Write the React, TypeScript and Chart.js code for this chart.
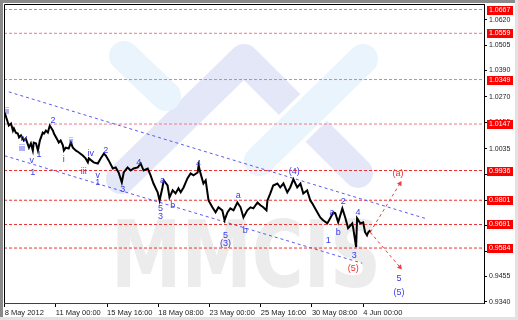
import React, { useEffect, useRef } from "react";
import { Chart, registerables } from "chart.js";

Chart.register(...registerables);

// H4 bar number (0 = first bar on the chart) and closing price of the traced line
const barIndex = [
  0, 1.0, 1.3, 2.0, 2.6, 2.9, 3.5, 4.1, 4.5, 5.1,
  6.0, 6.6, 7.6, 8.2, 8.8, 9.1, 9.8, 10.4, 11.0, 11.9,
  12.3, 12.9, 13.5, 14.1, 15.1, 15.4, 16.6, 16.9, 17.5, 18.2,
  18.5, 19.1, 20.0, 20.7, 21.3, 22.2, 23.2, 24.4, 25.3, 26.0,
  26.3, 27.8, 29.1, 30.0, 31.0, 31.6, 32.5, 33.8, 34.7, 35.6,
  36.6, 37.2, 38.4, 39.4, 40.3, 41.6, 42.5, 43.4, 44.7, 45.6,
  46.5, 47.8, 48.4, 49.3, 49.7, 50.9, 51.5, 52.5, 53.4, 54.3,
  55.0, 55.9, 57.1, 58.1, 59.0, 60.3, 60.6, 61.2, 62.1, 62.8,
  63.7, 64.9, 65.9, 66.8, 68.0, 68.7, 69.6, 70.5, 71.5, 72.7,
  73.7, 74.6, 75.8, 76.8, 77.7, 79.0, 79.9, 80.8, 81.8, 82.1,
  83.0, 83.9, 85.2, 86.1, 87.1, 88.3, 89.2, 90.2, 91.4, 92.4,
  93.3, 94.5, 95.5, 96.1, 97.0, 98.6, 99.5, 100.8, 101.7, 102.7,
  103.3, 104.2, 105.5, 106.4, 107.3, 108.6, 108.9, 109.8, 110.1, 111.1,
  112.0, 112.6, 113.2, 113.6, 114.2,
];
const closePrice = [
  1.0199, 1.0154, 1.014, 1.0149, 1.0117, 1.0127, 1.0108, 1.0104, 1.0086, 1.0095,
  1.0072, 1.0081, 1.004, 1.0059, 1.0027, 1.0063, 1.0059, 1.0027, 1.0072, 1.0108,
  1.0104, 1.0117, 1.0108, 1.014, 1.0117, 1.0104, 1.0072, 1.0063, 1.0072, 1.005,
  1.0027, 1.004, 1.0036, 1.0063, 1.004, 1.0027, 1.0018, 1.0004, 0.9991, 0.9973,
  0.9991, 0.9973, 0.9968, 0.9991, 1.0013, 1.0004, 0.9982, 0.9945, 0.995, 0.9927,
  0.9882, 0.9927, 0.995, 0.9936, 0.9945, 0.995, 0.9968, 0.9936, 0.9945, 0.9914,
  0.9877, 0.9837, 0.98, 0.9859, 0.9891, 0.9868, 0.9814, 0.9846, 0.9832, 0.9855,
  0.9837, 0.9859, 0.99, 0.9923, 0.9914, 0.9927, 0.9959, 0.9923, 0.9877, 0.9891,
  0.98, 0.9769, 0.9746, 0.9769, 0.9755, 0.971, 0.9746, 0.9764, 0.9755, 0.9791,
  0.9769, 0.9723, 0.9755, 0.9769, 0.9764, 0.9791, 0.9778, 0.9769, 0.9755, 0.98,
  0.9832, 0.9868, 0.9877, 0.9859, 0.9877, 0.9837, 0.9859, 0.9896, 0.9859, 0.9877,
  0.9832, 0.9846, 0.98, 0.9787, 0.9764, 0.9723, 0.971, 0.9696, 0.9719, 0.9746,
  0.9742, 0.9701, 0.9764, 0.9723, 0.9674, 0.9696, 0.9674, 0.9588, 0.9719, 0.9696,
  0.9701, 0.9656, 0.9642, 0.9656, 0.9665,
];

const X_MIN = -0.2;
const X_MAX = 149.75;
const Y_MIN = 0.93345;
const Y_MAX = 1.0692;

const xTickBars = [0, 16, 32, 48, 64, 80, 96, 112];
const xTickLabels = [
  "8 May 2012", "11 May 00:00", "15 May 16:00", "18 May 08:00",
  "23 May 00:00", "25 May 16:00", "30 May 08:00", "4 Jun 00:00",
];
const yTickValues = [
  0.934, 0.9455, 0.957, 0.9685, 0.98, 0.992, 1.0035, 1.0155, 1.027, 1.039, 1.0505, 1.062,
];

const upperLevels = [1.0667, 1.0559, 1.0349, 1.0147];
const lowerLevels = [0.9936, 0.9801, 0.9691, 0.9584];

const upperChannelBars = [1.3, 131.3];
const upperChannelPrices = [1.0293, 0.9719];
const lowerChannelBars = [0, 111.7];
const lowerChannelPrices = [1.0003, 0.9515];

const projUpBars = [114.2, 123.5];
const projUpPrices = [0.9656, 0.9877];
const projDownBars = [114.2, 123.5];
const projDownPrices = [0.9656, 0.9497];

const blueLabelText = [
  "ii", "iii", "iv", "1", "v", "1", "2", "i", "ii", "iii",
  "iv", "v", "1", "2", "3", "4", "5", "3", "a", "b",
  "4", "a", "b", "5", "(3)", "(4)", "a", "b", "2", "1",
  "3", "4", "5", "(5)",
];
const blueLabelBar = [
  0.7, 5.4, 6.0, 10.7, 8.5, 8.8, 15.1, 18.5, 20.7, 24.7,
  26.9, 29.1, 29.1, 31.6, 36.9, 41.9, 48.7, 48.7, 49.3, 52.5,
  60.6, 73.0, 75.2, 69.0, 69.0, 90.5, 102.3, 104.2, 105.8, 101.1,
  109.2, 110.4, 123.2, 123.2,
];
const blueLabelPrice = [
  1.0203, 1.0036, 1.0081, 1.0009, 0.9982, 0.9927, 1.0163, 0.9986, 1.0068, 0.9932,
  1.0013, 0.9914, 0.9882, 1.0027, 0.985, 0.9973, 0.9764, 0.9728, 0.9891, 0.9778,
  0.9968, 0.9823, 0.9665, 0.9642, 0.9606, 0.9932, 0.9746, 0.9656, 0.9796, 0.9619,
  0.9551, 0.9746, 0.9447, 0.9384,
];
const redLabelText = ["(a)", "(5)"];
const redLabelBar = [122.9, 108.9];
const redLabelPrice = [0.9923, 0.9493];

const pts = (xs: number[], ys: number[]) => xs.map((x, i) => ({ x, y: ys[i] }));
const levelPts = (v: number) => [{ x: X_MIN, y: v }, { x: X_MAX, y: v }];

const decorPlugin = {
  id: "decor",
  beforeDraw(chart: any) {
    const ctx = chart.ctx;
    ctx.save();
    ctx.fillStyle = "#ffffff";
    ctx.fillRect(0, 0, chart.width, chart.height);
    ctx.restore();
  },
  beforeDatasetsDraw(chart: any) {
    const ctx = chart.ctx;
    const a = chart.chartArea;
    ctx.save();
    ctx.beginPath();
    ctx.rect(a.left, a.top, a.right - a.left, a.bottom - a.top);
    ctx.clip();
    ctx.translate(a.left, a.top);
    ctx.lineCap = "round";
    ctx.lineJoin = "round";
    // lavender chevron
    ctx.strokeStyle = "#e3e7f7";
    ctx.lineWidth = 30;
    ctx.beginPath();
    ctx.moveTo(117, 175);
    ctx.lineTo(240, 55);
    ctx.lineTo(354, 169);
    ctx.stroke();
    // left cyan stroke
    ctx.strokeStyle = "#eaf4fc";
    ctx.beginPath();
    ctx.moveTo(120, 52);
    ctx.lineTo(162, 92);
    ctx.stroke();
    // right cyan stroke with white gap
    ctx.strokeStyle = "#ffffff";
    ctx.lineWidth = 38;
    ctx.beginPath();
    ctx.moveTo(359, 55);
    ctx.lineTo(255, 157);
    ctx.stroke();
    ctx.strokeStyle = "#eaf4fc";
    ctx.lineWidth = 30;
    ctx.stroke();
    // MMCIS text
    ctx.font = 'bold 92px "DejaVu Sans"';
    const w = ctx.measureText("MMCIS").width;
    ctx.translate(107, 283);
    ctx.scale(270 / w, 1);
    ctx.fillStyle = "#ececec";
    ctx.textBaseline = "alphabetic";
    ctx.fillText("MMCIS", 0, 0);
    ctx.restore();
  },
  afterDatasetsDraw(chart: any) {
    const ctx = chart.ctx;
    const xs = chart.scales.x;
    const ys = chart.scales.y;
    ctx.save();
    ctx.font = '9px "Liberation Sans"';
    ctx.textAlign = "center";
    ctx.textBaseline = "middle";
    ctx.fillStyle = "#3a3aee";
    blueLabelText.forEach((t, i) => {
      ctx.fillText(t, xs.getPixelForValue(blueLabelBar[i]), ys.getPixelForValue(blueLabelPrice[i]));
    });
    ctx.fillStyle = "#e83030";
    redLabelText.forEach((t, i) => {
      ctx.fillText(t, xs.getPixelForValue(redLabelBar[i]), ys.getPixelForValue(redLabelPrice[i]));
    });
    ctx.restore();
  },
  afterDraw(chart: any) {
    const ctx = chart.ctx;
    const a = chart.chartArea;
    const ys = chart.scales.y;
    ctx.save();
    // frame left/top
    ctx.strokeStyle = "#000";
    ctx.lineWidth = 1;
    ctx.beginPath();
    ctx.moveTo(a.left + 0.5, a.bottom);
    ctx.lineTo(a.left + 0.5, a.top + 0.5);
    ctx.lineTo(a.right, a.top + 0.5);
    ctx.stroke();
    // level price boxes
    ctx.font = '7px "Liberation Sans"';
    ctx.textBaseline = "middle";
    ctx.textAlign = "left";
    [...upperLevels, ...lowerLevels].forEach((v) => {
      const py = ys.getPixelForValue(v);
      ctx.fillStyle = "#ff0000";
      ctx.fillRect(a.right + 3, Math.round(py) - 4, 26, 9);
      ctx.fillStyle = "#ffffff";
      ctx.fillText(v.toFixed(4), a.right + 5, Math.round(py) + 0.5);
    });
    // outer border
    ctx.fillStyle = "#8a8a8a";
    ctx.fillRect(0, 0, chart.width, 3);
    ctx.fillRect(0, 0, 3, chart.height);
    ctx.fillStyle = "#e2e2e2";
    ctx.fillRect(0, chart.height - 3, chart.width, 3);
    ctx.fillRect(chart.width - 3, 0, 3, chart.height);
    ctx.restore();
  },
};

export default function App() {
  const ref = useRef<HTMLCanvasElement>(null);
  useEffect(() => {
    if (!ref.current) return;
    const datasets: any[] = [
      {
        data: pts(barIndex, closePrice),
        borderColor: "#000000",
        borderWidth: 2,
        pointRadius: 0,
        tension: 0,
      },
      {
        data: pts(projUpBars, projUpPrices),
        borderColor: "#f03c3c",
        borderWidth: 1,
        borderDash: [3, 3],
        pointRadius: [0, 3],
        pointStyle: "triangle",
        pointRotation: [0, 31],
        pointBackgroundColor: "#f03c3c",
        pointBorderWidth: 0,
      },
      {
        data: pts(projDownBars, projDownPrices),
        borderColor: "#f03c3c",
        borderWidth: 1,
        borderDash: [3, 3],
        pointRadius: [0, 3],
        pointStyle: "triangle",
        pointRotation: [0, 139],
        pointBackgroundColor: "#f03c3c",
        pointBorderWidth: 0,
      },
      {
        data: pts(upperChannelBars, upperChannelPrices),
        borderColor: "#5b5bf0",
        borderWidth: 1,
        borderDash: [3, 3],
        pointRadius: 0,
      },
      {
        data: pts(lowerChannelBars, lowerChannelPrices),
        borderColor: "#5b5bf0",
        borderWidth: 1,
        borderDash: [3, 3],
        pointRadius: 0,
      },
      ...upperLevels.map((v) => ({
        data: levelPts(v),
        borderColor: "#e87a8c",
        borderWidth: 1,
        borderDash: [3, 2],
        pointRadius: 0,
      })),
      ...lowerLevels.map((v) => ({
        data: levelPts(v),
        borderColor: "#f03030",
        borderWidth: 1,
        borderDash: [3, 2],
        pointRadius: 0,
      })),
    ];
    const chart = new Chart(ref.current, {
      type: "line",
      data: { datasets },
      plugins: [decorPlugin],
      options: {
        animation: false,
        responsive: false,
        devicePixelRatio: 1,
        layout: { padding: { left: 3, top: 3, right: 0, bottom: 0 } },
        plugins: { legend: { display: false }, tooltip: { enabled: false } },
        scales: {
          x: {
            type: "linear",
            position: "bottom",
            min: X_MIN,
            max: X_MAX,
            afterBuildTicks: (s: any) => {
              s.ticks = xTickBars.map((v) => ({ value: v }));
            },
            afterFit: (s: any) => {
              s.height = 17;
              s.paddingLeft = 0;
              s.paddingRight = 0;
            },
            ticks: {
              autoSkip: false,
              maxRotation: 0,
              align: "start",
              padding: 1,
              color: "#222",
              font: { family: "Liberation Sans", size: 7.5 },
              callback: (_v: any, i: number) => xTickLabels[i],
            },
            grid: { drawOnChartArea: false, drawTicks: true, tickLength: 4, color: "#000" },
            border: { display: true, color: "#603040" },
          },
          y: {
            type: "linear",
            position: "right",
            min: Y_MIN,
            max: Y_MAX,
            afterBuildTicks: (s: any) => {
              s.ticks = yTickValues.map((v) => ({ value: v }));
            },
            afterFit: (s: any) => {
              s.width = 34;
              s.paddingTop = 0;
              s.paddingBottom = 0;
            },
            ticks: {
              autoSkip: false,
              padding: 2,
              color: "#222",
              font: { family: "Liberation Sans", size: 7 },
              callback: (v: any) => Number(v).toFixed(4),
            },
            grid: { drawOnChartArea: false, drawTicks: true, tickLength: 3, color: "#000" },
            border: { display: true, color: "#000" },
          },
        },
      } as any,
    });
    return () => chart.destroy();
  }, []);
  return (
    <div style={{ position: "fixed", left: 0, top: 0, width: 518, height: 320, background: "#fff" }}>
      <canvas ref={ref} width={518} height={320} style={{ display: "block", width: 518, height: 320 }} />
    </div>
  );
}
